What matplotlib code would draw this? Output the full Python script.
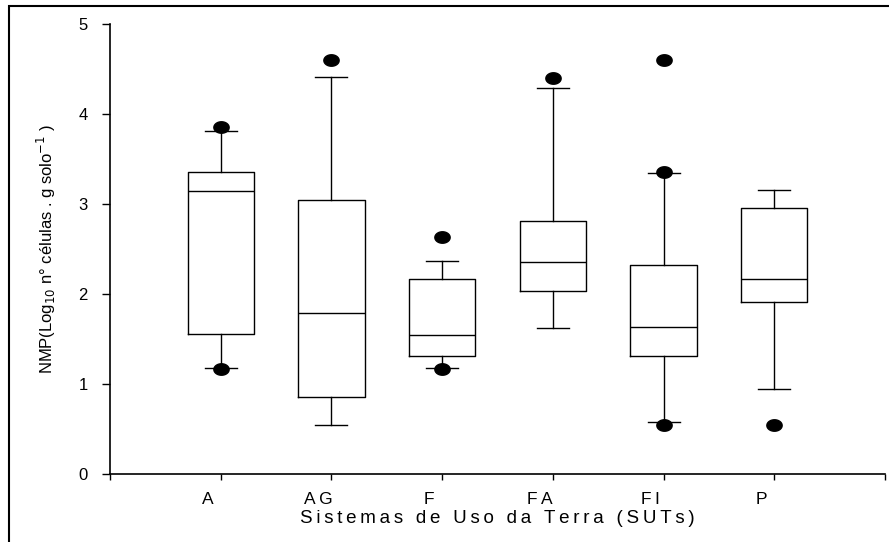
import matplotlib
matplotlib.use("Agg")
import matplotlib.pyplot as plt
import numpy as np
from matplotlib.path import Path
from matplotlib.patches import Rectangle
from matplotlib.transforms import ScaledTranslation

# land-use systems (SUTs) and their box statistics
sistemas = ["A", "AG", "F", "FA", "FI", "P"]
q1 = [1.56, 0.86, 1.31, 2.03, 1.31, 1.91]
mediana = [3.14, 1.79, 1.54, 2.36, 1.63, 2.17]
q3 = [3.36, 3.05, 2.17, 2.81, 2.32, 2.96]
whis_baixo = [1.18, 0.55, 1.18, 1.62, 0.58, 0.94]
whis_alto = [3.81, 4.41, 2.37, 4.29, 3.34, 3.16]
outliers = [[3.86, 1.17], [4.60], [2.63, 1.17], [4.40], [4.60, 3.36, 0.55], [0.55]]

plt.rcParams['font.family'] = ['Liberation Sans', 'DejaVu Sans']

fig = plt.figure(figsize=(8.89, 5.42), dpi=100)
ax = fig.add_axes([110/889, 68/542, 775/889, 450/542])

stats = []
for i in range(len(sistemas)):
    stats.append(dict(med=mediana[i], q1=q1[i], q3=q3[i],
                      whislo=whis_baixo[i], whishi=whis_alto[i],
                      fliers=outliers[i], label=sistemas[i]))

# slightly flattened dot for the outliers
t = np.linspace(0, 2*np.pi, 60)
oval = Path(np.column_stack([np.cos(t), 0.75*np.sin(t)]), closed=True)

pos = np.arange(1, len(sistemas) + 1)
ax.bxp(stats, positions=pos, widths=0.6, capwidths=0.29, manage_ticks=False,
       boxprops=dict(color='black', linewidth=1.0),
       medianprops=dict(color='black', linewidth=1.0),
       whiskerprops=dict(color='black', linewidth=1.0),
       capprops=dict(color='black', linewidth=1.0),
       flierprops=dict(marker=oval, markersize=11, markerfacecolor='black',
                       markeredgecolor='black'))

ax.set_xlim(0, 7)
ax.set_ylim(0, 5)
ax.spines['top'].set_visible(False)
ax.spines['right'].set_visible(False)
ax.spines['left'].set_linewidth(1.2)
ax.spines['bottom'].set_linewidth(1.2)

ax.set_yticks(range(6))
ax.tick_params(axis='y', direction='out', length=6, width=1.0, pad=10, labelsize=12)
ax.set_xticks(range(8))
ax.set_xticklabels([""] + ["\u2009".join(s) for s in sistemas] + [""])
ax.tick_params(axis='x', direction='out', length=4.3, width=1.0, pad=9, labelsize=12.5)
for lab in ax.get_xticklabels():
    lab.set_transform(lab.get_transform() + ScaledTranslation(-0.13, 0, fig.dpi_scale_trans))

ax.set_ylabel("NMP(Log$_{10}$ n° células . g solo$^{-1}$ )", fontsize=12, labelpad=15)
ax.set_xlabel("\u2009".join("Sistemas de Uso da Terra (SUTs)"), fontsize=13.5, labelpad=2)

# frame around the whole figure
fig.patches.append(Rectangle((9/889, -0.1), 1.2, (536/542) + 0.1, transform=fig.transFigure,
                             fill=False, edgecolor='black', linewidth=1.5))

fig.savefig("out.png", dpi=100)
